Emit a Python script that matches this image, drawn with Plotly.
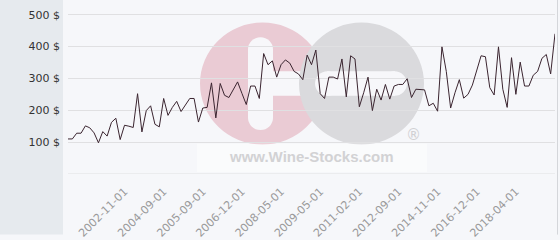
import plotly.graph_objects as go

# ---- data ----
prices = [
    110, 110, 128, 128, 151, 145, 129, 98, 133, 119, 162, 175, 108, 153, 150,
    146, 252, 132, 199, 214, 156, 148, 237, 184, 209, 228, 196, 218, 237, 237,
    163, 207, 209, 286, 176, 284, 247, 240, 265, 289, 253, 218, 276, 276, 237,
    378, 343, 355, 304, 343, 358, 348, 322, 314, 296, 373, 343, 389, 252, 237,
    304, 304, 298, 361, 242, 371, 361, 211, 255, 304, 199, 266, 232, 281, 235,
    276, 281, 281, 299, 240, 266, 266, 264, 214, 222, 197, 399, 322, 207, 255,
    296, 238, 250, 279, 327, 371, 368, 271, 248, 399, 266, 209, 365, 250, 351,
    276, 276, 310, 322, 363, 375, 314, 440,
]
point_index = list(range(len(prices)))
x_tick_index = [13, 22, 31, 40, 49, 58, 67, 76, 85, 94, 103]
x_tick_labels = ["2002-11-01", "2004-09-01", "2005-09-01", "2006-12-01",
                 "2008-05-01", "2009-05-01", "2011-02-01", "2012-09-01",
                 "2014-11-01", "2016-12-01", "2018-04-01"]
y_tick_values = [0, 100, 200, 300, 400, 500]
y_tick_labels = ["", "100 $", "200 $", "300 $", "400 $", "500 $"]

# ---- layout geometry (pixels) ----
W, H = 560, 240
ML, MR, MT, MB = 68, 5, 0, 62
PW = W - ML - MR
PH = H - MT - MB

def px(x):
    return (x - ML) / PW

def py(y):
    return (H - MB - y) / PH

fig = go.Figure()
fig.add_trace(go.Scatter(
    x=point_index, y=prices, mode="lines",
    line=dict(color="#3b2530", width=1),
    hoverinfo="skip", showlegend=False,
))

shapes = []
# left gray panel
shapes.append(dict(type="rect", xref="paper", yref="paper", layer="below",
                   x0=px(0), x1=px(63), y0=py(H), y1=py(0),
                   fillcolor="#e6eaee", line_width=0))
# right border
shapes.append(dict(type="line", xref="paper", yref="paper", layer="below",
                   x0=px(557.5), x1=px(557.5), y0=py(H), y1=py(0),
                   line=dict(color="#d4d6da", width=1)))

# watermark logo
def circle(cx, cy, r, color):
    return dict(type="circle", xref="paper", yref="paper", layer="below",
                x0=px(cx - r), x1=px(cx + r), y0=py(cy + r), y1=py(cy - r),
                fillcolor=color, line_width=0)

def rect(x0, y0, x1, y1, color):
    return dict(type="rect", xref="paper", yref="paper", layer="below",
                x0=px(x0), x1=px(x1), y0=py(y1), y1=py(y0),
                fillcolor=color, line_width=0)

PINK = "#eacbd4"
GREY = "#dadadd"
WHITE = "#f7f7fa"
shapes.append(circle(262.5, 85.5, 62.5, PINK))
# white cross in pink circle
shapes.append(rect(248, 50, 273, 121, WHITE))
shapes.append(circle(260.5, 50.5, 12.5, WHITE))
shapes.append(circle(260.5, 120.5, 12.5, WHITE))
shapes.append(rect(260, 73, 305, 98, WHITE))
# grey circle
shapes.append(circle(361.5, 85.5, 62.5, GREY))
shapes.append(rect(327, 73, 395, 98, WHITE))
shapes.append(circle(327.5, 85.5, 12.5, WHITE))
shapes.append(circle(394.5, 85.5, 12.5, WHITE))
# light box behind the url text
shapes.append(dict(type="rect", xref="paper", yref="paper", layer="below",
                   x0=px(197), x1=px(427), y0=py(176), y1=py(147),
                   fillcolor="rgba(255,255,255,0.45)", line_width=0))
# bottom grid line at 0
shapes.append(dict(type="line", xref="paper", yref="y", layer="between",
                   x0=0, x1=1, y0=y_tick_values[0], y1=y_tick_values[0],
                   line=dict(color="#e0e0e2", width=1)))

annotations = [
    dict(text="www.Wine-Stocks.com", xref="paper", yref="paper",
         x=px(311.5), y=py(160), showarrow=False,
         font=dict(family="Liberation Sans, Arial, sans-serif", size=15,
                   color="#d2d2d4", weight="bold"),
         xanchor="center", yanchor="middle"),
    dict(text="®", xref="paper", yref="paper", x=px(413), y=py(138),
         showarrow=False, xanchor="center", yanchor="middle",
         font=dict(family="DejaVu Sans", size=15, color="#d0d0d3")),
]

fig.update_layout(
    width=W, height=H,
    margin=dict(l=ML, r=MR, t=MT, b=MB, pad=0),
    paper_bgcolor="#f6f7fa",
    plot_bgcolor="rgba(0,0,0,0)",
    shapes=shapes,
    annotations=annotations,
    showlegend=False,
    font=dict(family="DejaVu Sans", size=11, color="#333"),
)
fig.update_xaxes(
    range=[0, len(prices) - 1],
    tickmode="array", tickvals=x_tick_index, ticktext=x_tick_labels,
    tickangle=-45, tickfont=dict(size=11, color="#9a9a9a"),
    showgrid=False, zeroline=False, showline=False, ticks="",
    ticklabelstandoff=8,
)
fig.update_yaxes(
    range=[0, 546],
    tickmode="array", tickvals=y_tick_values, ticktext=y_tick_labels,
    tickfont=dict(size=11, color="#333"),
    showgrid=True, gridcolor="#e0e0e2", gridwidth=1,
    zeroline=False, showline=False, ticks="", ticklabelstandoff=7,
)

fig.write_html("out.html")
